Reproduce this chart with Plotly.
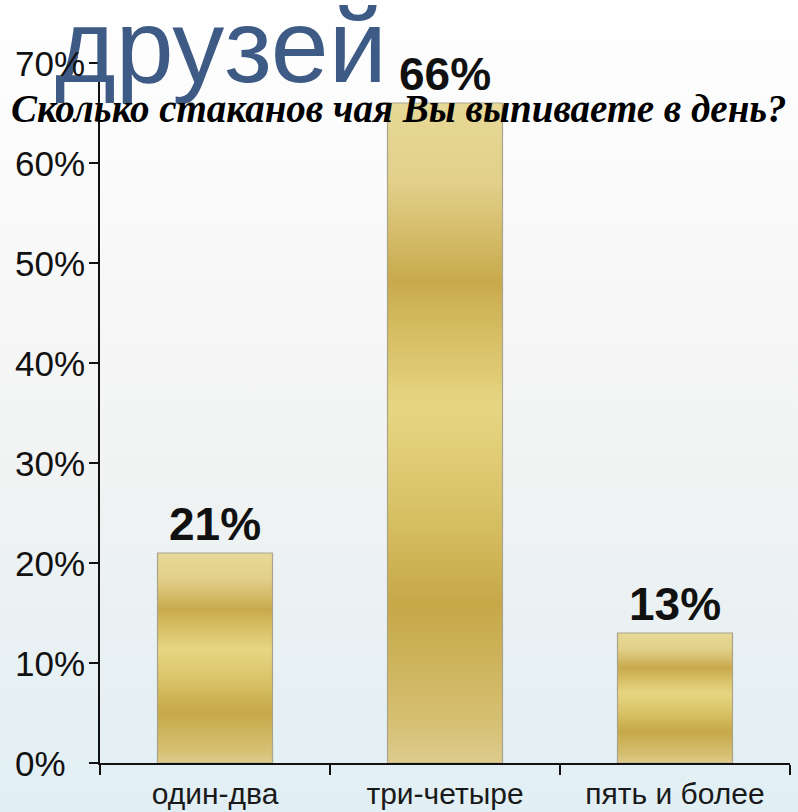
import base64
import plotly.graph_objects as go

categories = ["один-два", "три-четыре", "пять и более"]
values = [0.21, 0.66, 0.13]
y_ticks = [0, 0.1, 0.2, 0.3, 0.4, 0.5, 0.6, 0.7]
y_tick_labels = ["0%", "10%", "20%", "30%", "40%", "50%", "60%", "70%"]
title_top = "друзей"
title_main = "Сколько стаканов чая Вы выпиваете в день?"

W, H = 798, 812
ML, MR, MT, MB = 100, 8, 63, 49
PW, PH = W - ML - MR, H - MT - MB
BAR_W = 0.5

svg = (
    '<svg xmlns="http://www.w3.org/2000/svg" width="100" height="100" preserveAspectRatio="none">'
    '<defs><linearGradient id="g" x1="0" y1="0" x2="0" y2="1">'
    '<stop offset="0" stop-color="#FFFFFF"/>'
    '<stop offset="0.55" stop-color="#F2F3F3"/>'
    '<stop offset="1" stop-color="#E1EFF4"/>'
    '</linearGradient></defs>'
    '<rect width="100" height="100" fill="url(#g)"/></svg>'
)
bg_src = "data:image/svg+xml;base64," + base64.b64encode(svg.encode()).decode()

gold_scale = [
    [0.00, "#DECC8E"],
    [0.06, "#D6C073"],
    [0.24, "#C6A847"],
    [0.40, "#DAC469"],
    [0.54, "#E6D682"],
    [0.64, "#D8C066"],
    [0.73, "#C8AA4C"],
    [0.88, "#E2D08A"],
    [1.00, "#E6D896"],
]

fig = go.Figure()
# data labels + category positions
fig.add_trace(go.Bar(
    x=categories,
    y=values,
    width=BAR_W,
    marker=dict(color="rgba(0,0,0,0)", line=dict(width=0)),
    texttemplate="%{y:.0%}",
    textposition="outside",
    constraintext="none",
    cliponaxis=False,
    textfont=dict(family="Liberation Sans, Arial, sans-serif", size=46, color="#111111", weight="bold"),
    hoverinfo="skip",
))
# gold gradient bodies of the same bars
for i, v in enumerate(values):
    x0, x1 = i - BAR_W / 2, i + BAR_W / 2
    fig.add_trace(go.Scatter(
        x=[x0, x1, x1, x0, x0], y=[0, 0, v, v, 0],
        xaxis="x2", yaxis="y",
        mode="lines", fill="toself",
        line=dict(color="#A9A38F", width=1.2),
        fillgradient=dict(type="vertical", colorscale=gold_scale),
        hoverinfo="skip", showlegend=False,
    ))

annotations = []
annotations.append(dict(
    text=title_top, xref="paper", yref="paper", x=0, y=1, xanchor="left", yanchor="middle",
    xshift=-47, yshift=17, showarrow=False,
    font=dict(family="Liberation Sans, Arial, sans-serif", size=104, color="#3E5B86"),
))
annotations.append(dict(
    text=title_main, xref="paper", yref="paper", x=(398.5 - ML) / PW, y=1, xanchor="center", yanchor="middle",
    yshift=-45, showarrow=False,
    font=dict(family="Liberation Serif, Times New Roman, serif", size=39, color="#000000",
              weight="bold", style="italic"),
))
for v, lab in zip(y_ticks, y_tick_labels):
    annotations.append(dict(
        text=lab, xref="paper", yref="y", x=0, y=v, xanchor="left", yanchor="middle",
        xshift=-(ML - 13), showarrow=False,
        font=dict(family="Liberation Sans, Arial, sans-serif", size=35, color="#111111"),
    ))

fig.update_layout(
    width=W, height=H,
    margin=dict(l=ML, r=MR, t=MT, b=MB, pad=0, autoexpand=False),
    paper_bgcolor="#F4F5F5",
    plot_bgcolor="rgba(0,0,0,0)",
    showlegend=False,
    bargap=0.5,
    annotations=annotations,
    images=[dict(
        source=bg_src, xref="paper", yref="paper",
        x=-ML / PW, y=1 + MT / PH, sizex=W / PW, sizey=H / PH,
        xanchor="left", yanchor="top", sizing="stretch", layer="below",
    )],
    xaxis=dict(
        type="category", showline=True, linecolor="#111111", linewidth=2,
        ticks="outside", tickson="boundaries", ticklen=10, tickwidth=2, tickcolor="#111111",
        ticklabelstandoff=3, automargin=False,
        tickfont=dict(family="Liberation Sans, Arial, sans-serif", size=30, color="#1a1a1a"),
        showgrid=False, zeroline=False, fixedrange=True,
    ),
    xaxis2=dict(
        overlaying="x", range=[-0.5, len(categories) - 0.5], visible=False,
        showgrid=False, zeroline=False, fixedrange=True, automargin=False,
    ),
    yaxis=dict(
        range=[0, 0.7], tickvals=y_ticks, showticklabels=False,
        showline=True, linecolor="#111111", linewidth=2,
        ticks="outside", ticklen=9, tickwidth=2, tickcolor="#111111",
        showgrid=False, zeroline=False, fixedrange=True, automargin=False,
    ),
)

fig.write_html(
    "out.html",
    config={"displayModeBar": False},
    post_script="document.body.style.margin='0';document.body.style.padding='0';document.body.style.overflow='hidden';",
)
